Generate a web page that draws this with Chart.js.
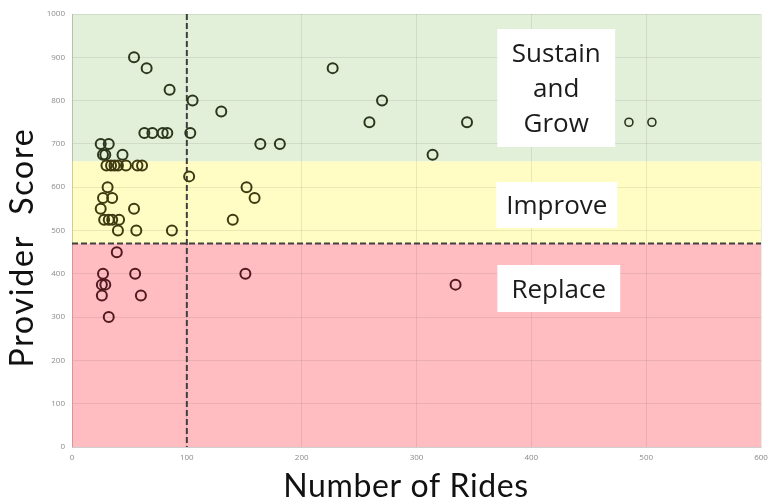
<!DOCTYPE html>
<html>
<head>
<meta charset="utf-8">
<title>Provider Score vs Number of Rides</title>
<script src="https://cdn.jsdelivr.net/npm/chart.js@4.4.1/dist/chart.umd.min.js"></script>
<style>
  html, body { margin: 0; padding: 0; background: #ffffff; }
  #wrap { width: 768px; height: 502px; }
</style>
</head>
<body>
<div id="wrap"><canvas id="chart" width="768" height="502"></canvas></div>
<script>
// Each provider: number of rides and provider score
const rides = [
  54, 65, 85, 105, 130, 63, 70, 79, 83, 103, 25, 32, 27, 29, 44,
  227, 270, 259, 344, 164, 181, 314, 485, 505,
  30, 34, 37, 40, 47, 57, 61, 102, 31, 152, 27, 35, 159, 25, 54,
  28, 32, 35, 41, 140, 40, 56, 87,
  39, 27, 55, 151, 26, 29, 334, 26, 60, 32
];
const scores = [
  900, 875, 825, 800, 775, 725, 725, 725, 725, 725, 700, 700, 675, 675, 675,
  875, 800, 750, 750, 700, 700, 675, 750, 750,
  650, 650, 650, 650, 650, 650, 650, 625, 600, 600, 575, 575, 575, 550, 550,
  525, 525, 525, 525, 525, 500, 500, 500,
  450, 400, 400, 400, 375, 375, 375, 350, 350, 300
];

// Axis ranges and tick spacing
const xRange = [0, 600];
const yRange = [0, 1000];
const tickStep = 100;

// Decision thresholds
const rideThreshold = 100;   // vertical dashed line
const replaceBelow = 470;    // horizontal dashed line / red zone top
const sustainAbove = 660;    // green zone bottom

// Zone labels (placed in data units)
const zoneLabels = [
  { lines: ['Sustain', 'and', 'Grow'], x0: 370.4, x1: 473.0, y0: 692.8, y1: 965.4 },
  { lines: ['Improve'],                x0: 369.6, x1: 474.8, y0: 505.8, y1: 612.0 },
  { lines: ['Replace'],                x0: 370.4, x1: 477.4, y0: 311.8, y1: 420.3 }
];

const zoneColors = { sustain: '#e2efd9', improve: '#fffdc3', replace: '#ffbdc2' };
const markerColors = { sustain: '#2b361b', improve: '#3e3b12', replace: '#52191e' };

function zoneOf(score) {
  if (score >= sustainAbove) return 'sustain';
  if (score >= replaceBelow) return 'improve';
  return 'replace';
}

const points = rides.map((r, i) => ({ x: r, y: scores[i] }));

// Background zones, drawn under the grid
const zonesPlugin = {
  id: 'zones',
  beforeDraw(chart) {
    const { ctx, chartArea: a, scales: { y } } = chart;
    const ySus = y.getPixelForValue(sustainAbove);
    const yRep = y.getPixelForValue(replaceBelow);
    ctx.save();
    ctx.fillStyle = zoneColors.sustain;
    ctx.fillRect(a.left, a.top, a.right - a.left, ySus - a.top);
    ctx.fillStyle = zoneColors.improve;
    ctx.fillRect(a.left, ySus, a.right - a.left, yRep - ySus);
    ctx.fillStyle = zoneColors.replace;
    ctx.fillRect(a.left, yRep, a.right - a.left, a.bottom - yRep);
    ctx.restore();
  }
};

// Threshold lines, drawn under the markers
const thresholdPlugin = {
  id: 'thresholds',
  beforeDatasetsDraw(chart) {
    const { ctx, chartArea: a, scales: { x, y } } = chart;
    const px = x.getPixelForValue(rideThreshold);
    const py = y.getPixelForValue(replaceBelow);
    ctx.save();
    ctx.strokeStyle = '#3f3f3f';
    ctx.lineWidth = 2;
    ctx.setLineDash([6, 3]);
    ctx.beginPath();
    ctx.moveTo(px, a.top);
    ctx.lineTo(px, a.bottom);
    ctx.moveTo(a.left, py);
    ctx.lineTo(a.right, py);
    ctx.stroke();
    ctx.restore();
  }
};

// White label boxes naming each zone
const labelPlugin = {
  id: 'zoneLabels',
  afterDatasetsDraw(chart) {
    const { ctx, scales: { x, y } } = chart;
    ctx.save();
    ctx.font = '26px "Open Sans", sans-serif';
    ctx.textAlign = 'center';
    ctx.textBaseline = 'alphabetic';
    const lineGap = 35;
    zoneLabels.forEach(lbl => {
      const left = x.getPixelForValue(lbl.x0);
      const right = x.getPixelForValue(lbl.x1);
      const top = y.getPixelForValue(lbl.y1);
      const bottom = y.getPixelForValue(lbl.y0);
      ctx.fillStyle = '#ffffff';
      ctx.fillRect(left, top, right - left, bottom - top);
      ctx.fillStyle = '#1b1b1b';
      const cx = (left + right) / 2;
      const cy = (top + bottom) / 2;
      const n = lbl.lines.length;
      lbl.lines.forEach((t, i) => {
        ctx.fillText(t, cx, cy + (i - (n - 1) / 2) * lineGap + 9.3);
      });
    });
    ctx.restore();
  }
};

// Axis titles
const axisTitlePlugin = {
  id: 'axisTitles',
  afterDraw(chart) {
    const { ctx } = chart;
    ctx.save();
    ctx.fillStyle = '#111111';
    ctx.font = '32px Lato, "Open Sans", sans-serif';
    ctx.textAlign = 'center';
    ctx.textBaseline = 'alphabetic';
    ctx.letterSpacing = '0.6px';
    ctx.fillText('Number of Rides', 406, 497);
    ctx.translate(33, 247.5);
    ctx.rotate(-Math.PI / 2);
    ctx.letterSpacing = '1.8px';
    ctx.fillText('Provider  Score', 0, 0);
    ctx.restore();
  }
};

const gridColor = 'rgba(0,0,0,0.08)';
const tickFont = { family: '"Open Sans", sans-serif', size: 8 };
const plainTick = v => String(v);

new Chart(document.getElementById('chart'), {
  type: 'scatter',
  data: {
    datasets: [{
      label: 'Providers',
      data: points,
      pointStyle: 'circle',
      pointRadius: ctx => (ctx.raw && ctx.raw.x > 450 ? 4 : 5),
      pointBorderWidth: ctx => (ctx.raw && ctx.raw.x > 450 ? 1.6 : 2),
      pointBackgroundColor: 'rgba(0,0,0,0)',
      pointBorderColor: ctx => markerColors[zoneOf(ctx.raw ? ctx.raw.y : 0)],
      pointHoverRadius: 5
    }]
  },
  options: {
    responsive: false,
    animation: false,
    events: [],
    layout: { padding: { top: 14, right: 0, left: 0, bottom: 0 } },
    plugins: {
      legend: { display: false },
      tooltip: { enabled: false }
    },
    scales: {
      x: {
        type: 'linear',
        min: xRange[0],
        max: xRange[1],
        ticks: { stepSize: tickStep, color: '#8a8a8a', font: tickFont, padding: 6, maxRotation: 0, callback: plainTick },
        grid: { color: gridColor, drawTicks: false },
        border: { color: 'rgba(0,0,0,0.12)' },
        afterFit(s) { s.height = 55; s.paddingLeft = 0; s.paddingRight = 6; }
      },
      y: {
        type: 'linear',
        min: yRange[0],
        max: yRange[1],
        ticks: { stepSize: tickStep, color: '#8a8a8a', font: tickFont, padding: 7, callback: plainTick },
        grid: { color: gridColor, drawTicks: false },
        border: { color: 'rgba(0,0,0,0.12)' },
        afterFit(s) { s.width = 72; s.paddingTop = 0; s.paddingBottom = 0; }
      }
    }
  },
  plugins: [zonesPlugin, thresholdPlugin, labelPlugin, axisTitlePlugin]
});
</script>
</body>
</html>
